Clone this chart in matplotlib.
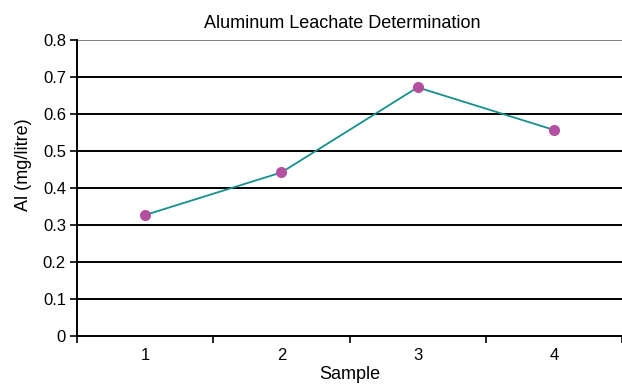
import matplotlib.pyplot as plt

plt.rcParams['font.family'] = ['Liberation Sans', 'DejaVu Sans']

samples = [1, 2, 3, 4]
al_conc = [0.327, 0.442, 0.672, 0.557]
y_ticks = [0, 0.1, 0.2, 0.3, 0.4, 0.5, 0.6, 0.7, 0.8]
y_labels = ['0', '0.1', '0.2', '0.3', '0.4', '0.5', '0.6', '0.7', '0.8']

fig = plt.figure(figsize=(6.22, 3.86), dpi=100)
ax = fig.add_axes([77 / 622, 1 - 336 / 386, 545 / 622, 296 / 386])

ax.plot(samples, al_conc, color='#15908c', lw=1.3, zorder=3)
ax.plot(samples, al_conc, 'o', color='#b4509f', ms=7, zorder=4)

ax.set_xlim(0.5, 4.5)
ax.set_ylim(0, 0.8)
ax.set_yticks(y_ticks)
ax.set_yticklabels(y_labels)
ax.set_xticks(samples)
ax.set_xticks([0.5, 1.5, 2.5, 3.5, 4.5], minor=True)
ax.tick_params(axis='x', which='major', length=0, pad=9, labelsize=12)
ax.tick_params(axis='x', which='minor', length=5, width=1.2, direction='out')
ax.tick_params(axis='y', length=5, width=1.2, labelsize=12, pad=3)

for y in y_ticks[1:]:
    ax.axhline(y, color='black' if y < 0.8 else '#808080', lw=1.4, zorder=1)

for s in ['top', 'right']:
    ax.spines[s].set_visible(False)
ax.spines['left'].set_linewidth(1.4)
ax.spines['bottom'].set_linewidth(1.4)

ax.set_title('Aluminum Leachate Determination', fontsize=13, pad=9, x=0.486)
ax.set_xlabel('Sample', fontsize=13, labelpad=2)
ax.set_ylabel('Al (mg/litre)', fontsize=13, labelpad=9)
ax.yaxis.set_label_coords(-0.083, 0.578)

fig.savefig('out.png', dpi=100)
